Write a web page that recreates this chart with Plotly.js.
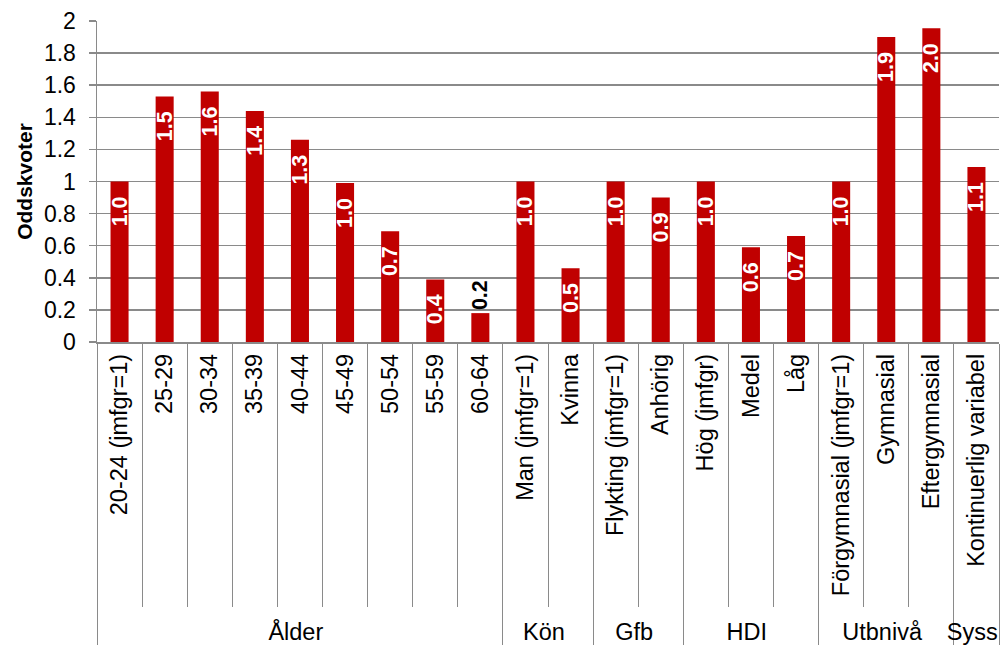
<!DOCTYPE html>
<html>
<head>
<meta charset="utf-8">
<script src="https://cdn.plot.ly/plotly-3.0.1.min.js"></script>
<style>
html,body{margin:0;padding:0;background:#fff;}
#chart{width:1003px;height:645px;}
</style>
</head>
<body>
<div id="chart"></div>
<script>
const groups = ['Ålder','Ålder','Ålder','Ålder','Ålder','Ålder','Ålder','Ålder','Ålder',
  'Kön','Kön','Gfb','Gfb','HDI','HDI','HDI','Utbnivå','Utbnivå','Utbnivå','Syss'];
const categories = ['20-24 (jmfgr=1)','25-29','30-34','35-39','40-44','45-49','50-54','55-59','60-64',
  'Man (jmfgr=1)','Kvinna','Flykting (jmfgr=1)','Anhörig','Hög (jmfgr)','Medel','Låg',
  'Förgymnasial (jmfgr=1)','Gymnasial','Eftergymnasial','Kontinuerlig variabel'];
const oddsRatios = [1.0, 1.53, 1.56, 1.44, 1.26, 0.99, 0.69, 0.39, 0.18,
  1.0, 0.46, 1.0, 0.90, 1.0, 0.59, 0.66, 1.0, 1.90, 1.955, 1.09];
const yTicks = [0, 0.2, 0.4, 0.6, 0.8, 1, 1.2, 1.4, 1.6, 1.8, 2];
const yTickText = ['0','0.2','0.4','0.6','0.8','1','1.2','1.4','1.6','1.8','2'];

const FONT = 'Liberation Sans, Arial, sans-serif';
const GRAY = '#8a8a8a';

const textPos = oddsRatios.map(v => v < 0.25 ? 'outside' : 'inside');

const trace = {
  type: 'bar',
  x: [groups, categories],
  y: oddsRatios,
  marker: {color: '#C00000', line: {width: 0}},
  texttemplate: '%{y:.1f}\u00a0\u00a0',
  textposition: textPos,
  textangle: -90,
  insidetextanchor: 'end',
  constraintext: 'none',
  cliponaxis: false,
  insidetextfont: {family: FONT, size: 21.5, color: '#ffffff', weight: 'bold'},
  outsidetextfont: {family: FONT, size: 21.5, color: '#000000', weight: 'bold'},
  hoverinfo: 'skip'
};

const layout = {
  width: 1003, height: 645,
  margin: {l: 97, r: 4, t: 21, b: 303, pad: 0},
  paper_bgcolor: '#ffffff', plot_bgcolor: '#ffffff',
  showlegend: false,
  bargap: 0.6,
  font: {family: FONT, size: 22, color: '#000000'},
  xaxis: {
    type: 'multicategory',
    tickson: 'boundaries',
    ticks: 'outside', ticklen: 263, tickcolor: GRAY, tickwidth: 1,
    ticklabelstandoff: 1,
    tickangle: -90,
    tickfont: {family: FONT, size: 23.5, color: '#000'},
    showline: true, linecolor: GRAY, linewidth: 1.5,
    showdividers: true, dividercolor: GRAY, dividerwidth: 1,
    showgrid: false, automargin: false
  },
  yaxis: {
    range: [0, 2],
    tickvals: yTicks, ticktext: yTickText,
    ticks: 'outside', ticklen: 7, tickcolor: GRAY, tickwidth: 1.5,
    ticklabelstandoff: 8,
    showgrid: true, gridcolor: GRAY, gridwidth: 1.5,
    showline: true, linecolor: GRAY, linewidth: 1.5,
    zeroline: false,
    tickfont: {family: FONT, size: 23, color: '#000'},
    title: {text: 'Oddskvoter', font: {family: FONT, size: 21, color: '#000', weight: 'bold'}, standoff: 5},
    automargin: false
  }
};

Plotly.newPlot('chart', [trace], layout, {displayModeBar: false, staticPlot: true});
</script>
</body>
</html>
